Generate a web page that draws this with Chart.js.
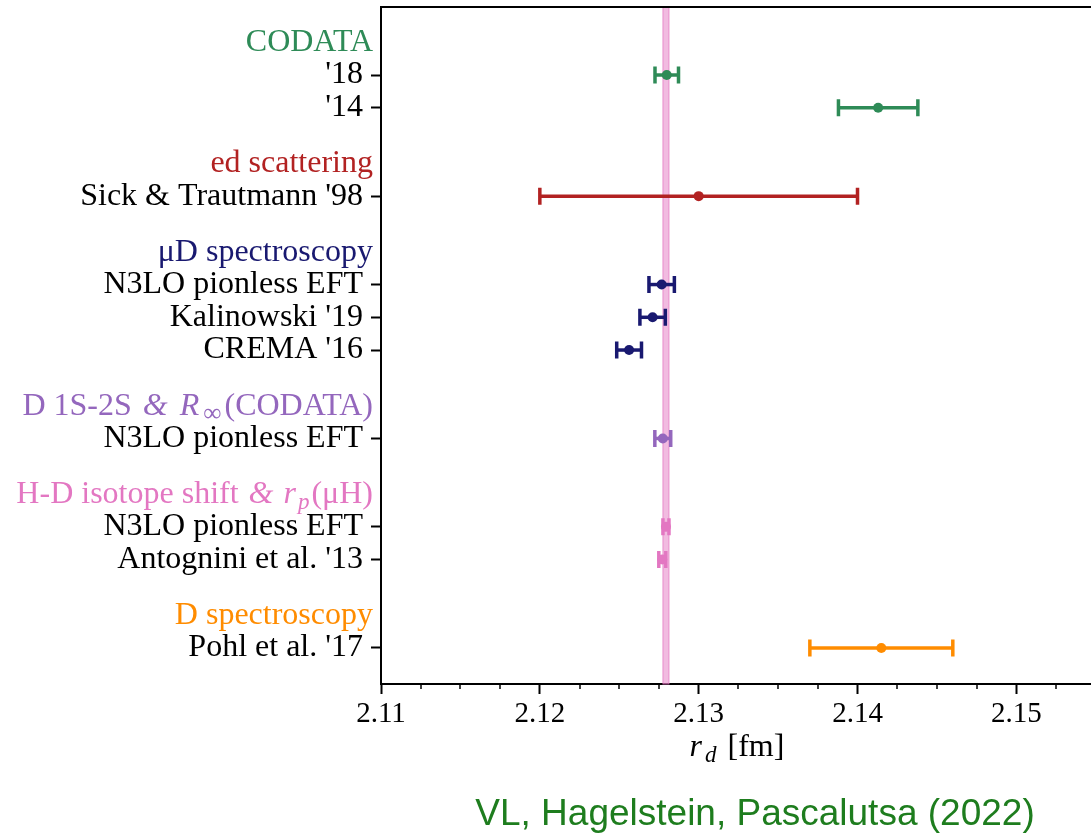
<!DOCTYPE html>
<html><head><meta charset="utf-8">
<script src="https://cdn.jsdelivr.net/npm/chart.js@4.4.1/dist/chart.umd.min.js"></script>
<style>html,body{margin:0;padding:0;background:#fff;overflow:hidden}#wrap{position:relative;width:1091px;height:833px}</style>
</head><body><div id="wrap"><canvas id="c" width="1091" height="833"></canvas></div>
<script>
// ---- data ----
const rowLabels = ["'18", "'14", "Sick & Trautmann '98", "N3LO pionless EFT", "Kalinowski '19", "CREMA '16",
  "N3LO pionless EFT", "N3LO pionless EFT", "Antognini et al. '13", "Pohl et al. '17"];
const rowGroups = [0, 0, 1, 2, 2, 2, 3, 4, 4, 5];
const rdValues = [2.12799, 2.1413, 2.1300, 2.12767, 2.1271, 2.12562, 2.12774, 2.12794, 2.12771, 2.1415];
const rdErrors = [0.00074, 0.0025, 0.0100, 0.0008, 0.0008, 0.00078, 0.0005, 0.00019, 0.00022, 0.0045];
const groupTitles = [
  [{t: 'CODATA'}],
  [{t: 'ed scattering'}],
  [{t: 'μD spectroscopy'}],
  [{t: 'D 1S-2S '}, {t: '&', it: 1, pad: 3}, {t: ' '}, {t: 'R', it: 1, pad: 1}, {t: '∞', sub: 1, pad: 3}, {t: '(CODATA)'}],
  [{t: 'H-D isotope shift '}, {t: '&', it: 1, pad: 2}, {t: ' '}, {t: 'r', it: 1}, {t: 'p', it: 1, sub: 1, pad: 2}, {t: '(μH)'}],
  [{t: 'D spectroscopy'}]
];
const xTickValues = [2.11, 2.12, 2.13, 2.14, 2.15];
const xMinorValues = [2.1125, 2.115, 2.1175, 2.1225, 2.125, 2.1275, 2.1325, 2.135, 2.1375,
  2.1425, 2.145, 2.1475, 2.1525];
const bandValue = 2.12794;
const bandError = 0.00019;
const xTitle = [{t: 'r', it: 1}, {t: 'd', it: 1, sub: 1, pad: 3}, {t: ' [fm]'}];
const credit = 'VL, Hagelstein, Pascalutsa (2022)';

// ---- styles ----
const groupColors = ['#2e8b57', '#b22222', '#191970', '#9467bd', '#e377c2', '#ff8c00'];
const SERIF = "'Liberation Serif', 'Times New Roman', serif";

// row layout (1 unit per row, extra gap between groups)
const rowPos = [];
{
  let p = 1;
  rowGroups.forEach((g, i) => {
    if (i > 0) p += (g !== rowGroups[i - 1]) ? 2.7 : 1;
    rowPos.push(p);
  });
}
const headerPos = groupTitles.map((_, g) => rowPos[rowGroups.indexOf(g)] - 0.98);

function drawRuns(ctx, runs, x, y, align, size, color) {
  const parts = runs.map(r => {
    const s = r.sub ? (r.t === '∞' ? size * 0.8 : size * 0.72) : size;
    const f = (r.it ? 'italic ' : '') + s + 'px ' + SERIF;
    ctx.font = f;
    const pad = r.pad || 0;
    return {t: r.t, f, w: ctx.measureText(r.t).width + 2 * pad, pad, dy: r.sub ? size * 0.26 : 0};
  });
  const total = parts.reduce((a, p) => a + p.w, 0);
  let cx = align === 'right' ? x - total : align === 'center' ? x - total / 2 : x;
  ctx.fillStyle = color;
  ctx.textAlign = 'left';
  ctx.textBaseline = 'middle';
  parts.forEach(p => { ctx.font = p.f; ctx.fillText(p.t, cx + p.pad, y + p.dy); cx += p.w; });
}

const decor = {
  id: 'decor',
  beforeDatasetsDraw(chart) {
    const {ctx, chartArea: a, scales: {x, y}} = chart;
    ctx.save();
    // band
    const b1 = x.getPixelForValue(bandValue - bandError), b2 = x.getPixelForValue(bandValue + bandError);
    ctx.fillStyle = 'rgba(227,119,194,0.5)';
    ctx.fillRect(b1, a.top, b2 - b1, a.bottom - a.top);
    ctx.strokeStyle = 'rgba(227,119,194,0.75)';
    ctx.lineWidth = 1;
    ctx.strokeRect(b1, a.top, b2 - b1, a.bottom - a.top);
    // error bars
    rdValues.forEach((v, i) => {
      const col = groupColors[rowGroups[i]];
      const py = y.getPixelForValue(rowPos[i]);
      const xl = x.getPixelForValue(v - rdErrors[i]), xr = x.getPixelForValue(v + rdErrors[i]);
      ctx.strokeStyle = col;
      ctx.lineWidth = 3.5;
      ctx.beginPath(); ctx.moveTo(xl, py); ctx.lineTo(xr, py); ctx.stroke();
      ctx.beginPath();
      ctx.moveTo(xl, py - 8.5); ctx.lineTo(xl, py + 8.5);
      ctx.moveTo(xr, py - 8.5); ctx.lineTo(xr, py + 8.5);
      ctx.stroke();
    });
    ctx.restore();
  },
  afterDraw(chart) {
    const {ctx, chartArea: a, scales: {x, y}} = chart;
    ctx.save();
    // top spine
    ctx.fillStyle = '#000';
    ctx.fillRect(a.left - 1, a.top - 1, a.right - a.left + 1, 2);
    // minor ticks
    ctx.strokeStyle = '#000';
    ctx.lineWidth = 1.5;
    xMinorValues.forEach(v => {
      const px = Math.round(x.getPixelForValue(v));
      ctx.beginPath(); ctx.moveTo(px, a.bottom); ctx.lineTo(px, a.bottom + 5); ctx.stroke();
    });
    // group headers
    groupTitles.forEach((runs, g) => {
      drawRuns(ctx, runs, 373, y.getPixelForValue(headerPos[g]), 'right', 32, groupColors[g]);
    });
    // axis title
    drawRuns(ctx, xTitle, 737, 748, 'center', 32, '#000');
    // credit
    ctx.font = "37px 'Liberation Sans', Arial, sans-serif";
    ctx.fillStyle = '#1e7d1e';
    ctx.textAlign = 'center';
    ctx.textBaseline = 'alphabetic';
    ctx.fillText(credit, 755, 825);
    ctx.restore();
  }
};

new Chart(document.getElementById('c'), {
  type: 'scatter',
  data: {
    datasets: [{
      data: rdValues.map((v, i) => ({x: v, y: rowPos[i]})),
      pointRadius: 5,
      pointHoverRadius: 5,
      pointBorderWidth: 0,
      pointBackgroundColor: rowGroups.map(g => groupColors[g]),
      pointBorderColor: rowGroups.map(g => groupColors[g])
    }]
  },
  options: {
    responsive: false,
    animation: false,
    events: [],
    layout: {autoPadding: false, padding: {top: 7, left: 0, right: 0, bottom: 0}},
    plugins: {legend: {display: false}, tooltip: {enabled: false}},
    scales: {
      x: {
        type: 'linear', min: 2.11, max: 2.1547,
        afterBuildTicks: s => { s.ticks = xTickValues.map(v => ({value: v})); },
        afterFit: s => { s.height = 149; s.paddingRight = 0; },
        ticks: {callback: v => v.toFixed(2), font: {family: SERIF, size: 29}, color: '#000',
          padding: 3, maxRotation: 0, autoSkip: false},
        grid: {drawOnChartArea: false, tickLength: 10, tickWidth: 2, tickColor: '#000'},
        border: {display: true, color: '#000', width: 2}
      },
      y: {
        type: 'linear', reverse: true, min: -1.077, max: 19.6,
        afterBuildTicks: s => { s.ticks = rowPos.map(v => ({value: v})); },
        afterFit: s => { s.width = 381; s.paddingTop = 0; s.paddingBottom = 0; },
        ticks: {callback: (v, i) => rowLabels[i], font: {family: SERIF, size: 32}, color: '#000',
          padding: 8, autoSkip: false},
        grid: {drawOnChartArea: false, tickLength: 10, tickWidth: 2, tickColor: '#000'},
        border: {display: true, color: '#000', width: 2}
      }
    }
  },
  plugins: [decor]
});
</script></body></html>
